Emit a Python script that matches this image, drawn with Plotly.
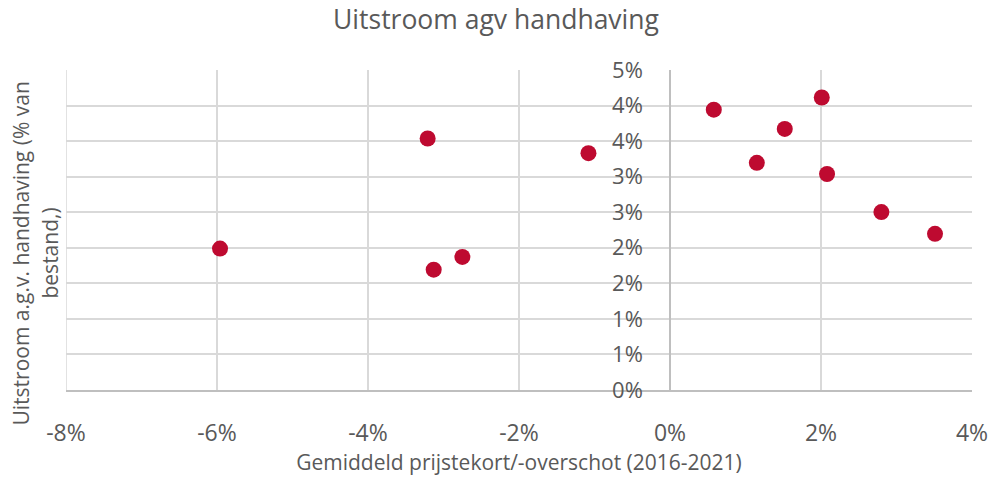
import plotly.graph_objects as go

# Average price shortfall/surplus 2016-2021 (fraction) vs. outflow due to enforcement (fraction of stock)
price_gap = [-0.0596, -0.0321, -0.0313, -0.0275, -0.0108, 0.0058,
             0.0115, 0.0152, 0.0201, 0.0208, 0.0280, 0.0351]
outflow = [0.0221, 0.0393, 0.0188, 0.0208, 0.0370, 0.0438,
           0.0355, 0.0408, 0.0457, 0.03375, 0.0278, 0.0244]

x_tick_vals = [-0.08, -0.06, -0.04, -0.02, 0.0, 0.02, 0.04]
x_tick_labels = ["-8%", "-6%", "-4%", "-2%", "0%", "2%", "4%"]
y_tick_labels = ["0%", "1%", "1%", "2%", "2%", "3%", "3%", "4%", "4%", "5%"]
y_max = 0.05
y_tick_vals = [i * y_max / (len(y_tick_labels) - 1) for i in range(len(y_tick_labels))]

y_title_lines = ["Uitstroom a.g.v. handhaving (% van", "bestand,)"]

FONT = "Open Sans"
TEXT = "#595959"
GRID = "#d9d9d9"
AXIS = "#bfbfbf"

fig = go.Figure(
    go.Scatter(
        x=price_gap,
        y=outflow,
        mode="markers",
        marker=dict(size=16, color="#BE0A30"),
        showlegend=False,
    )
)

# left edge gridline of the plot area at the first x tick
fig.add_shape(
    type="line",
    xref="x",
    yref="paper",
    x0=x_tick_vals[0],
    x1=x_tick_vals[0],
    y0=0,
    y1=1,
    line=dict(color=GRID, width=1.5),
    layer="below",
)

# vertical y-axis title, drawn as two rotated lines left of the plot area
title_line_x = [-45 / 906, -16 / 906]
annotations = [
    dict(
        text=line,
        xref="paper",
        yref="paper",
        x=lx,
        y=0.4265,
        xanchor="center",
        yanchor="middle",
        textangle=-90,
        showarrow=False,
        font=dict(size=21, color=TEXT, family=FONT),
    )
    for line, lx in zip(y_title_lines, title_line_x)
]

fig.update_layout(
    width=992,
    height=479,
    margin=dict(l=66, r=20, t=70, b=89),
    paper_bgcolor="white",
    plot_bgcolor="white",
    font=dict(family=FONT, color=TEXT),
    title=dict(
        text="Uitstroom agv handhaving",
        x=0.5,
        xanchor="center",
        y=1 - 20 / 479,
        yanchor="middle",
        font=dict(size=26.5, color=TEXT, family=FONT),
    ),
    xaxis=dict(
        range=[-0.08, 0.04],
        tickvals=x_tick_vals,
        ticktext=x_tick_labels,
        showgrid=True,
        gridcolor=GRID,
        gridwidth=1.5,
        zeroline=False,
        showline=True,
        linecolor=AXIS,
        linewidth=1.5,
        ticks="",
        ticklabelstandoff=22,
        tickfont=dict(size=23, color=TEXT),
        title=dict(
            text="Gemiddeld prijstekort/-overschot (2016-2021)",
            font=dict(size=21, color=TEXT),
            standoff=8,
        ),
        automargin=False,
    ),
    yaxis=dict(
        range=[0, y_max],
        tickvals=y_tick_vals,
        ticktext=y_tick_labels,
        anchor="free",
        position=0.08 / 0.12,
        showgrid=True,
        gridcolor=GRID,
        gridwidth=1.5,
        zeroline=False,
        showline=True,
        linecolor=AXIS,
        linewidth=1.5,
        ticks="",
        ticklabelstandoff=22,
        tickfont=dict(size=22, color=TEXT),
        automargin=False,
    ),
    annotations=annotations,
)

fig.write_html("out.html")
